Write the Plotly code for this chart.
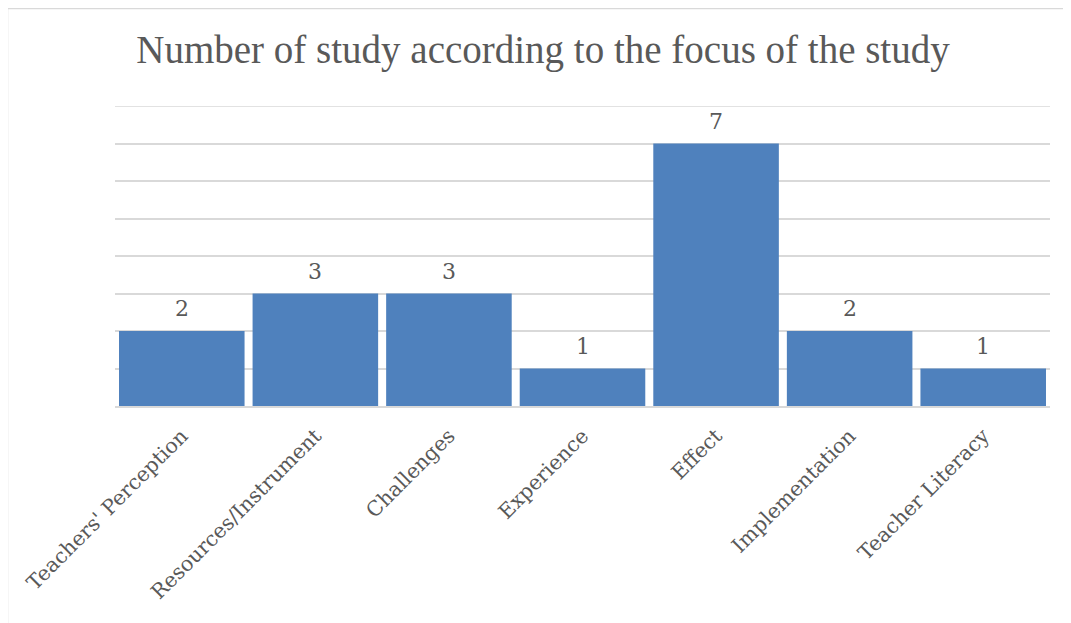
import plotly.graph_objects as go

categories = ["Teachers' Perception", "Resources/Instrument", "Challenges", "Experience",
              "Effect", "Implementation", "Teacher Literacy"]
values = [2, 3, 3, 1, 7, 2, 1]
y_ticks = [0, 1, 2, 3, 4, 5, 6, 7, 8]

OFF = 8  # page body margin
W, H = 1071 - OFF, 623 - OFF
L, R, T, B = 115 - OFF, 21, 106 - OFF, 217
pw, ph = W - L - R, H - T - B

TXT = "#595959"
GRID = "#D9D9D9"
SERIF = "DejaVu Serif"

fig = go.Figure()
fig.add_trace(go.Bar(
    x=categories, y=values,
    marker=dict(color="#4F81BD", line=dict(width=0)),
    hoverinfo="x+y",
))

for c, v in zip(categories, values):
    fig.add_annotation(x=c, y=v, text=str(v), showarrow=False, yanchor="bottom",
                       yshift=8, font=dict(family=SERIF, size=22, color=TXT))

# top gridline at the range edge
fig.add_shape(type="line", xref="paper", yref="y", x0=0, x1=1,
              y0=max(y_ticks), y1=max(y_ticks),
              line=dict(color=GRID, width=1.5), layer="below")

# outer chart border (left and top visible)
fig.add_shape(type="rect", xref="paper", yref="paper",
              x0=(7 - OFF + 0.5 - L) / pw, x1=(W + 5 - L) / pw,
              y0=-(H + 5 - T - ph) / ph, y1=(H - (8 - OFF + 0.5) - B) / ph,
              line=dict(color=GRID, width=1.5), layer="below")

fig.update_layout(
    width=W, height=H,
    margin=dict(l=L, r=R, t=T, b=B, autoexpand=False),
    paper_bgcolor="white", plot_bgcolor="white",
    bargap=0.06,
    showlegend=False,
    title=dict(text="Number of study according to the focus of the study",
               x=(543 - OFF - L) / pw, xref="paper", xanchor="center",
               y=1 - (49 - OFF) / H, yanchor="middle",
               font=dict(family="Liberation Serif", size=39, color=TXT)),
    xaxis=dict(tickangle=-45, tickfont=dict(family=SERIF, size=20.5, color=TXT),
               showline=True, linecolor=GRID, linewidth=1.5,
               ticks="", ticklabelstandoff=8, showgrid=False, automargin=False),
    yaxis=dict(range=[0, max(y_ticks)], tickvals=y_ticks, showticklabels=False,
               showgrid=True, gridcolor=GRID, gridwidth=1.5,
               zeroline=False, showline=False, ticks="", automargin=False),
)

fig.write_html("out.html")
